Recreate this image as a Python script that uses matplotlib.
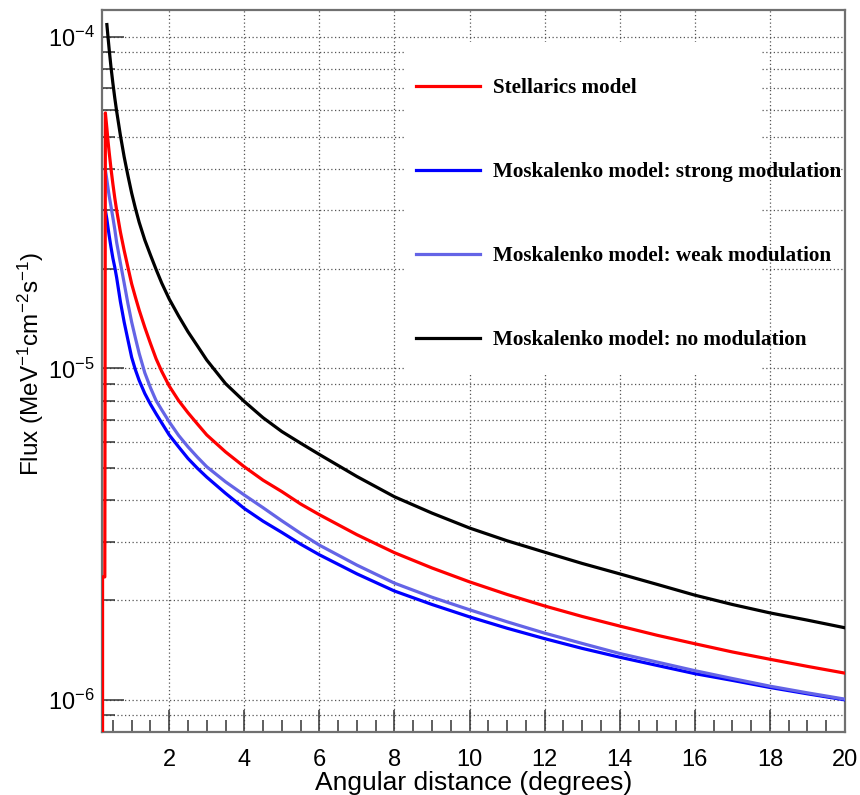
import matplotlib
matplotlib.use('Agg')
import matplotlib.pyplot as plt
from matplotlib.ticker import MultipleLocator, LogLocator, NullFormatter
from matplotlib.patches import Rectangle

plt.rcParams['font.family'] = 'Liberation Sans'
plt.rcParams['mathtext.fontset'] = 'custom'
plt.rcParams['mathtext.rm'] = 'Liberation Sans'
plt.rcParams['mathtext.it'] = 'Liberation Sans:italic'
plt.rcParams['mathtext.bf'] = 'Liberation Sans:bold'

# angular distance (deg) and flux (MeV^-1 cm^-2 s^-1) for each model
angle = [0.34, 0.37, 0.4, 0.45, 0.5, 0.55, 0.6, 0.7, 0.8, 0.9, 1.0, 1.1, 1.2,
         1.35, 1.5, 1.65, 1.8, 2.0, 2.25, 2.5, 2.75, 3.0, 3.5, 4, 4.5, 5, 5.5,
         6, 7, 8, 9, 10, 11, 12, 13, 14, 15, 16, 17, 18, 19, 20]

no_mod = [1.09e-4, 1.0e-4, 9.2e-5, 8.1e-5, 7.25e-5, 6.55e-5, 5.97e-5, 5.05e-5,
          4.35e-5, 3.82e-5, 3.38e-5, 3.04e-5, 2.76e-5, 2.44e-5, 2.2e-5,
          1.99e-5, 1.81e-5, 1.62e-5, 1.44e-5, 1.29e-5, 1.17e-5, 1.06e-5,
          9.0e-6, 7.95e-6, 7.1e-6, 6.45e-6, 5.95e-6, 5.5e-6, 4.72e-6, 4.1e-6,
          3.66e-6, 3.3e-6, 3.02e-6, 2.79e-6, 2.58e-6, 2.4e-6, 2.23e-6,
          2.07e-6, 1.94e-6, 1.83e-6, 1.74e-6, 1.65e-6]

stellarics_lead_x = [0.225, 0.225, 0.285, 0.30]
stellarics_lead = [5e-7, 2.35e-6, 2.35e-6, 5.9e-5]
stellarics = [5.3e-5, 4.85e-5, 4.5e-5, 4.0e-5, 3.6e-5, 3.27e-5, 3.0e-5,
              2.58e-5, 2.27e-5, 2.02e-5, 1.80e-5, 1.64e-5, 1.5e-5, 1.33e-5,
              1.19e-5, 1.07e-5, 9.8e-6, 8.85e-6, 8.0e-6, 7.35e-6, 6.8e-6,
              6.3e-6, 5.6e-6, 5.05e-6, 4.6e-6, 4.25e-6, 3.9e-6, 3.62e-6,
              3.15e-6, 2.78e-6, 2.5e-6, 2.27e-6, 2.08e-6, 1.92e-6, 1.785e-6,
              1.67e-6, 1.566e-6, 1.477e-6, 1.395e-6, 1.326e-6, 1.262e-6,
              1.204e-6]

peak_x = 0.30

weak_peak = 3.97e-5
weak_mod = [3.7e-5, 3.5e-5, 3.32e-5, 3.08e-5, 2.85e-5, 2.63e-5, 2.40e-5,
            2.08e-5, 1.81e-5, 1.57e-5, 1.38e-5, 1.235e-5, 1.11e-5, 9.7e-6,
            8.75e-6, 8.0e-6, 7.5e-6, 6.9e-6, 6.28e-6, 5.8e-6, 5.4e-6, 5.05e-6,
            4.55e-6, 4.15e-6, 3.8e-6, 3.47e-6, 3.18e-6, 2.93e-6, 2.55e-6,
            2.25e-6, 2.04e-6, 1.87e-6, 1.72e-6, 1.59e-6, 1.48e-6, 1.38e-6,
            1.30e-6, 1.225e-6, 1.16e-6, 1.10e-6, 1.05e-6, 1.005e-6]

strong_peak = 3.0e-5
strong_mod = [2.82e-5, 2.66e-5, 2.52e-5, 2.32e-5, 2.15e-5, 2.02e-5, 1.88e-5,
              1.59e-5, 1.38e-5, 1.22e-5, 1.08e-5, 9.9e-6, 9.2e-6, 8.4e-6,
              7.8e-6, 7.3e-6, 6.85e-6, 6.3e-6, 5.8e-6, 5.35e-6, 5.0e-6, 4.7e-6,
              4.2e-6, 3.78e-6, 3.46e-6, 3.2e-6, 2.95e-6, 2.74e-6, 2.4e-6,
              2.13e-6, 1.94e-6, 1.78e-6, 1.645e-6, 1.53e-6, 1.43e-6, 1.345e-6,
              1.27e-6, 1.2e-6, 1.145e-6, 1.09e-6, 1.043e-6, 1.0e-6]

fig = plt.figure(figsize=(8.6, 7.95), dpi=100)
ax = fig.add_axes([102 / 860, 63 / 795, 743 / 860, 722 / 795])

lw = 2.3
h_black, = ax.plot(angle, no_mod, color='black', lw=lw, zorder=3)
h_strong, = ax.plot([peak_x] + angle, [strong_peak] + strong_mod,
                    color='#0000ff', lw=lw, zorder=3)
h_weak, = ax.plot([peak_x] + angle, [weak_peak] + weak_mod,
                  color='#6464e6', lw=lw, zorder=3)
h_red, = ax.plot(stellarics_lead_x + angle, stellarics_lead + stellarics,
                 color='#ff0000', lw=lw, zorder=4)

ax.set_yscale('log')
ax.set_xlim(0.21, 20)
ax.set_ylim(8e-7, 1.206e-4)

ax.xaxis.set_major_locator(MultipleLocator(2))
ax.xaxis.set_minor_locator(MultipleLocator(0.5))
ax.yaxis.set_major_locator(LogLocator(base=10))
ax.yaxis.set_minor_locator(LogLocator(base=10, subs=range(2, 10)))
ax.yaxis.set_minor_formatter(NullFormatter())

ax.tick_params(which='both', direction='in', top=False, right=False,
               color='#333333', width=1.1, labelsize=17)
ax.tick_params(axis='x', which='major', length=16, pad=12)
ax.tick_params(axis='x', which='minor', length=8.5)
ax.tick_params(axis='y', which='major', length=16, pad=5)
ax.tick_params(axis='y', which='minor', length=9)

for sp in ax.spines.values():
    sp.set_color('#707070')
    sp.set_linewidth(1.6)

ax.set_axisbelow(True)
ax.grid(True, which='major', axis='x', color='#555555', ls=(0, (1, 2)), lw=0.9)
ax.grid(True, which='both', axis='y', color='#555555', ls=(0, (1, 2)), lw=0.9)

ax.set_xlabel('Angular distance (degrees)', fontsize=19)
ax.xaxis.set_label_coords(0.5, -0.054)
ax.set_ylabel(r'Flux (MeV$^{-1}$cm$^{-2}$s$^{-1}$)', fontsize=17.5)
ax.yaxis.set_label_coords(-0.0754, 0.51)

# white backdrop behind the legend entries
ax.add_patch(Rectangle((0.4078, 0.4945), 0.4778, 0.4612, transform=ax.transAxes,
                       facecolor='white', edgecolor='none', zorder=1))

leg = ax.legend([h_red, h_strong, h_weak, h_black],
                ['Stellarics model', 'Moskalenko model: strong modulation',
                 'Moskalenko model: weak modulation',
                 'Moskalenko model: no modulation'],
                loc='upper left', bbox_to_anchor=(0.4226, 0.9058),
                frameon=False, borderpad=0, borderaxespad=0,
                handlelength=3.03, handletextpad=0.62, labelspacing=3.03,
                prop={'family': 'Liberation Serif', 'weight': 'bold', 'size': 15.2})
leg.set_zorder(5)

fig.savefig('out.png', dpi=100)
